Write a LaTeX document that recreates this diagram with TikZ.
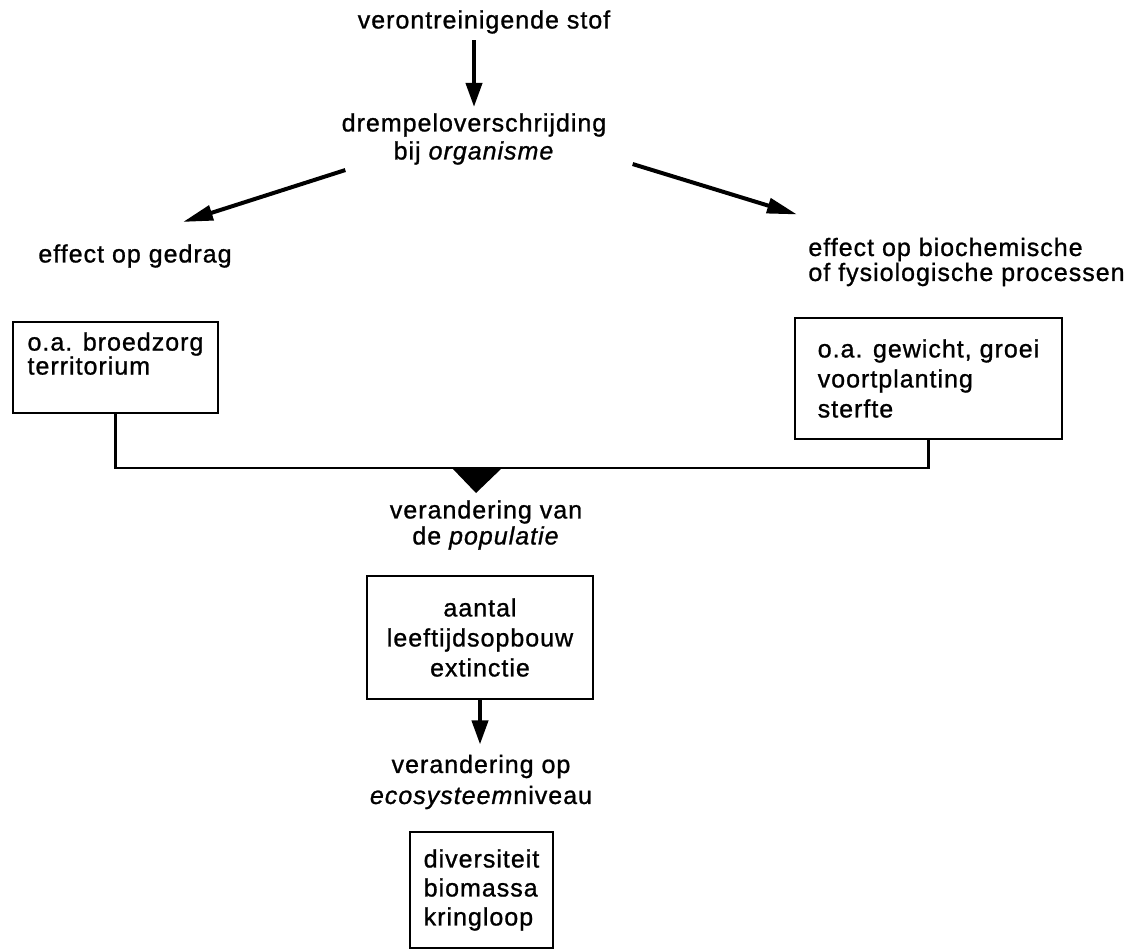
\documentclass[tikz,border=0pt]{standalone}
\usepackage{fontspec}
\setmainfont{Liberation Sans}[LetterSpace=4,FakeBold=1]
\usepackage{tikz}
\usetikzlibrary{calc,arrows.meta}
\tikzset{>={Triangle[length=12pt,width=8pt]}}
\tikzset{
  lbl/.style={inner sep=0pt,align=center,font=\fontsize{12.5}{14}\selectfont},
  bx/.style={draw,line width=1.3pt,inner sep=0pt,font=\fontsize{12.5}{15}\selectfont},
  arr/.style={line width=2pt,->},
  diag/.style={line width=2pt,-{Triangle[length=15pt,width=7.5pt]}},
  lnk/.style={line width=1.4pt}
}

\begin{document}
\begin{tikzpicture}[x=0.5pt,y=-0.5pt]
          \useasboundingbox (0,0) rectangle (1145,952);

          % Texts
          \node[lbl] at (484,22)   (src) {verontreinigende stof};
          \node[lbl] at (474,139)  (thr) {drempeloverschrijding\\bij \textit{organisme}};
          \node[lbl] at (135,256)  (gdr) {effect op gedrag};
          \node[lbl,anchor=west,align=left,font=\fontsize{12.5}{12.5}\selectfont] at (808,262) (fys) {effect op biochemische\\of fysiologische processen};
          \node[lbl,font=\fontsize{12.5}{13}\selectfont] at (486,525) (pop) {verandering van\\de \textit{populatie}};
          \node[lbl,font=\fontsize{12.5}{15.5}\selectfont] at (481,782) (eco) {verandering op\\\textit{ecosysteem}niveau};

          % Boxes
          \node[bx,align=left,minimum width=102.5pt,minimum height=45.5pt,font=\fontsize{12.5}{12}\selectfont] at (115.5,367.5) (lbox) {o.a. broedzorg\\territorium\rule[-14pt]{0pt}{14pt}};
          \node[bx,align=left,minimum width=133.5pt,minimum height=60.5pt] at (928.5,378.5) (rbox) {o.a. gewicht, groei\\voortplanting\\sterfte};
          \node[bx,align=center,minimum width=113pt,minimum height=61.5pt] at (480,637.5) (pbox) {aantal\\leeftijdsopbouw\\extinctie};
          \node[bx,align=left,minimum width=71.5pt,minimum height=58pt,font=\fontsize{12.5}{14.5}\selectfont] at (481.5,890) (ebox) {diversiteit\\biomassa\\kringloop};

          % Arrows
          \draw[arr,shorten <=3pt,shorten >=3pt] (src.south -| thr.north) -- (thr.north);
          \draw[diag] ($(thr.south west)+(4,5)$) -- ($(gdr.north)+(48,-22)$);
          \draw[diag] ($(thr.south east)+(26,-1)$) -- ($(fys.north west)+(-11,-23)$);
          \draw[arr,shorten >=5pt] (pbox.south) -- (pbox.south |- eco.north);

          % Joining bracket
          \coordinate (j) at (476,468);
          \draw[lnk] (lbox.south) |- (j) -| (rbox.south);
          \fill (j) ++(-24,0) -- ++(50,0) -- ($(j)+(0,25)$) -- cycle;

\end{tikzpicture}
\end{document}
